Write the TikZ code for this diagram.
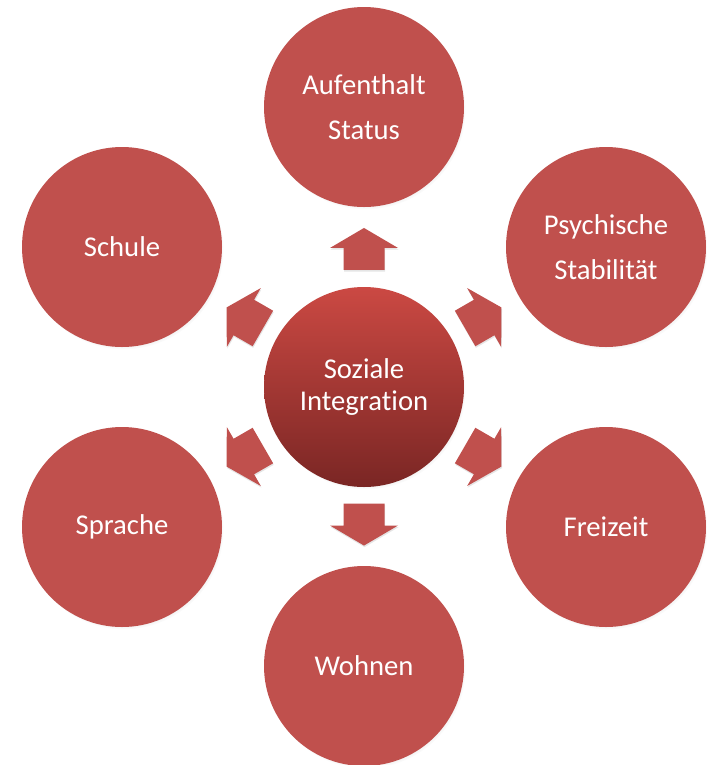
\documentclass[tikz,border=0pt]{standalone}
\usepackage{fontspec}
\setmainfont{Carlito}[Ligatures=NoCommon]
\usetikzlibrary{shadows,calc}
\definecolor{acc}{RGB}{192,80,77}
\definecolor{ctop}{RGB}{203,73,67}
\definecolor{cbot}{RGB}{122,38,36}
\begin{document}
\begin{tikzpicture}[x=0.75pt,y=-0.75pt,
  softshadow/.style={circular drop shadow={shadow xshift=1.2pt, shadow yshift=-1.8pt, shadow scale=1.0, opacity=0.35}},
  outer/.style={circle, fill=acc, minimum size=150pt, inner sep=0pt, text=white, align=center,
    font=\fontsize{21.5pt}{33.5pt}\selectfont, softshadow},
  hub/.style={circle, minimum size=150pt, inner sep=0pt, text=white, align=center,
    top color=ctop, bottom color=cbot, shading angle=0,
    font=\fontsize{21.5pt}{24pt}\selectfont, softshadow},
  blockarrow/.pic={
    \fill[acc, drop shadow={shadow xshift=0.4pt, shadow yshift=-1.2pt, opacity=0.2}]
      (-21,-20.5) -- (1,-20.5) -- (1,-34) -- (21,0) -- (1,34) -- (1,20.5) -- (-21,20.5) -- cycle;
  }]
\useasboundingbox (0,0) rectangle (707,765);
\fill[white] (0,0) rectangle (707,765);

\node[hub] (c) at (364,387) {Soziale\\Integration};
\node[outer] (top) at (364,107) {Aufenthalt\\Status};
\node[outer] (ur) at (606,247) {Psychische\\Stabilität};
\node[outer] (lr) at (606,527) {Freizeit};
\node[outer] (bot) at (364,666) {Wohnen};
\node[outer] (ll) at (122,527) {Sprache};
\node[outer] (ul) at (122,247) {Schule};

\coordinate (a1) at ($(c)!0.493!(top)$);
\coordinate (a2) at ($(c)!0.493!(ur)$);
\coordinate (a3) at ($(c)!0.493!(lr)$);
\coordinate (a4) at ($(c)!0.493!(bot)$);
\coordinate (a5) at ($(c)!0.493!(ll)$);
\coordinate (a6) at ($(c)!0.493!(ul)$);

\pic[rotate=90] at (a1) {blockarrow};
\pic[rotate=30] at (a2) {blockarrow};
\pic[rotate=-30] at (a3) {blockarrow};
\pic[rotate=-90] at (a4) {blockarrow};
\pic[rotate=-150] at (a5) {blockarrow};
\pic[rotate=150] at (a6) {blockarrow};
\end{tikzpicture}
\end{document}
